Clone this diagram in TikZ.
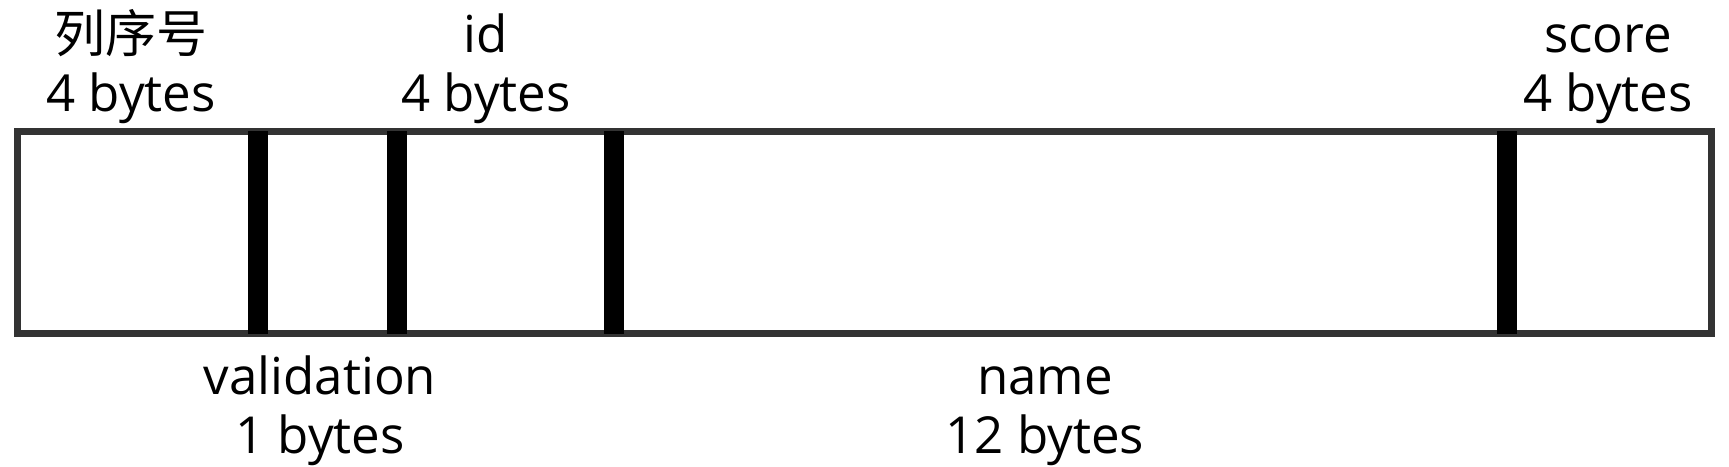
\documentclass[tikz,border=0pt]{standalone}
\usepackage{fontspec}
\setmainfont{Open Sans}
\newfontfamily\cjk{Noto Sans CJK SC}
\begin{document}
\begin{tikzpicture}[x=1pt,y=-1pt,
  frame/.style={draw=black!80,line width=7pt},
  divider/.style={draw=black,line width=20pt},
  field/.style={anchor=base,inner sep=0pt,font=\fontsize{51}{59}\selectfont}]
\useasboundingbox (0,0) rectangle (1729,466);
\draw[frame,fill=white] (17.5,131.5) rectangle (1711.5,333.5);
\foreach \xd in {258,397,614,1507}
\draw[divider] (\xd,131) -- (\xd,334);
% labels above the record
\node[field] (serial) at (131,52) {\begin{tabular}[t]{@{}c@{}}{\cjk 列序号}\\4 bytes\end{tabular}};
\node[field] (id) at (486,52) {\begin{tabular}[t]{@{}c@{}}id\\4 bytes\end{tabular}};
\node[field] (score) at (1608,52) {\begin{tabular}[t]{@{}c@{}}score\\4 bytes\end{tabular}};
% labels below the record
\node[field] (validation) at (320,394) {\begin{tabular}[t]{@{}c@{}}validation\\1 bytes\end{tabular}};
\node[field] (name) at (1045,394) {\begin{tabular}[t]{@{}c@{}}name\\12 bytes\end{tabular}};
\end{tikzpicture}
\end{document}
